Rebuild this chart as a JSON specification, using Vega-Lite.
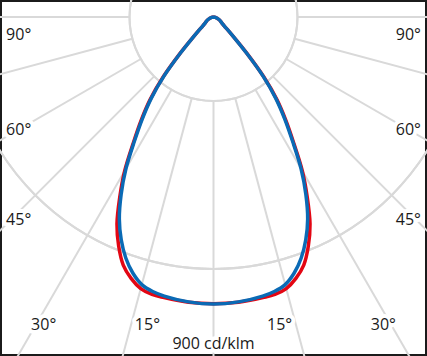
{
  "$schema": "https://vega.github.io/schema/vega-lite/v6.json",
  "width": 427,
  "height": 356,
  "padding": 0,
  "autosize": {"type": "none"},
  "background": "white",
  "config": {"view": {"stroke": "#1b1b1b", "strokeWidth": 4}, "font": "Open Sans"},
  "datasets": {
    "rings": [{"r": 225}, {"r": 450}, {"r": 675}, {"r": 900}],
    "spokes": [{"a": -90}, {"a": -75}, {"a": -60}, {"a": -45}, {"a": -30}, {"a": -15}, {"a": 0}, {"a": 15}, {"a": 30}, {"a": 45}, {"a": 60}, {"a": 75}, {"a": 90}],
    "labels": [
      {"t": "90°", "x": -522, "y": 48},
      {"t": "60°", "x": -522, "y": 303},
      {"t": "45°", "x": -522, "y": 545},
      {"t": "30°", "x": -455, "y": 824},
      {"t": "15°", "x": -177, "y": 824},
      {"t": "90°", "x": 522, "y": 48},
      {"t": "60°", "x": 522, "y": 303},
      {"t": "45°", "x": 522, "y": 545},
      {"t": "30°", "x": 455, "y": 824},
      {"t": "15°", "x": 177, "y": 824},
      {"t": "900 cd/klm", "x": 0, "y": 875}
    ],
    "curves": [
      {"c": "r", "a": -90, "i": 0}, {"c": "r", "a": -80, "i": 5}, {"c": "r", "a": -65, "i": 16}, {"c": "r", "a": -55, "i": 27},
      {"c": "r", "a": -50, "i": 38}, {"c": "r", "a": -47.5, "i": 54}, {"c": "r", "a": -45, "i": 80}, {"c": "r", "a": -42.5, "i": 134},
      {"c": "r", "a": -40, "i": 210}, {"c": "r", "a": -37.5, "i": 279}, {"c": "r", "a": -35, "i": 338}, {"c": "r", "a": -32.5, "i": 400},
      {"c": "r", "a": -30, "i": 476}, {"c": "r", "a": -27.5, "i": 544}, {"c": "r", "a": -25, "i": 612}, {"c": "r", "a": -22.5, "i": 664},
      {"c": "r", "a": -20, "i": 707}, {"c": "r", "a": -17.5, "i": 734}, {"c": "r", "a": -15, "i": 753}, {"c": "r", "a": -12.5, "i": 761},
      {"c": "r", "a": -10, "i": 763}, {"c": "r", "a": -5, "i": 767}, {"c": "r", "a": 0, "i": 768},
      {"c": "r", "a": 5, "i": 767}, {"c": "r", "a": 10, "i": 763}, {"c": "r", "a": 12.5, "i": 761}, {"c": "r", "a": 15, "i": 753},
      {"c": "r", "a": 17.5, "i": 734}, {"c": "r", "a": 20, "i": 707}, {"c": "r", "a": 22.5, "i": 664}, {"c": "r", "a": 25, "i": 612},
      {"c": "r", "a": 27.5, "i": 544}, {"c": "r", "a": 30, "i": 476}, {"c": "r", "a": 32.5, "i": 400}, {"c": "r", "a": 35, "i": 338},
      {"c": "r", "a": 37.5, "i": 279}, {"c": "r", "a": 40, "i": 210}, {"c": "r", "a": 42.5, "i": 134}, {"c": "r", "a": 45, "i": 80},
      {"c": "r", "a": 47.5, "i": 54}, {"c": "r", "a": 50, "i": 38}, {"c": "r", "a": 55, "i": 27}, {"c": "r", "a": 65, "i": 16},
      {"c": "r", "a": 80, "i": 5}, {"c": "r", "a": 90, "i": 0},
      {"c": "b", "a": -90, "i": 0}, {"c": "b", "a": -80, "i": 5}, {"c": "b", "a": -65, "i": 16}, {"c": "b", "a": -55, "i": 27},
      {"c": "b", "a": -50, "i": 38}, {"c": "b", "a": -47.5, "i": 54}, {"c": "b", "a": -45, "i": 80}, {"c": "b", "a": -42.5, "i": 131},
      {"c": "b", "a": -40, "i": 206}, {"c": "b", "a": -37.5, "i": 273}, {"c": "b", "a": -35, "i": 332}, {"c": "b", "a": -32.5, "i": 394},
      {"c": "b", "a": -30, "i": 469}, {"c": "b", "a": -27.5, "i": 536}, {"c": "b", "a": -25, "i": 597}, {"c": "b", "a": -22.5, "i": 646},
      {"c": "b", "a": -20, "i": 687}, {"c": "b", "a": -17.5, "i": 719}, {"c": "b", "a": -15, "i": 742}, {"c": "b", "a": -12.5, "i": 753},
      {"c": "b", "a": -10, "i": 759}, {"c": "b", "a": -5, "i": 766}, {"c": "b", "a": 0, "i": 769},
      {"c": "b", "a": 5, "i": 766}, {"c": "b", "a": 10, "i": 759}, {"c": "b", "a": 12.5, "i": 753}, {"c": "b", "a": 15, "i": 742},
      {"c": "b", "a": 17.5, "i": 719}, {"c": "b", "a": 20, "i": 687}, {"c": "b", "a": 22.5, "i": 646}, {"c": "b", "a": 25, "i": 597},
      {"c": "b", "a": 27.5, "i": 536}, {"c": "b", "a": 30, "i": 469}, {"c": "b", "a": 32.5, "i": 394}, {"c": "b", "a": 35, "i": 332},
      {"c": "b", "a": 37.5, "i": 273}, {"c": "b", "a": 40, "i": 206}, {"c": "b", "a": 42.5, "i": 131}, {"c": "b", "a": 45, "i": 80},
      {"c": "b", "a": 47.5, "i": 54}, {"c": "b", "a": 50, "i": 38}, {"c": "b", "a": 55, "i": 27}, {"c": "b", "a": 65, "i": 16},
      {"c": "b", "a": 80, "i": 5}, {"c": "b", "a": 90, "i": 0}
    ]
  },
  "encoding": {
    "x": {"type": "quantitative", "scale": {"domain": [-572, 572], "nice": false, "zero": false}, "axis": null},
    "y": {"type": "quantitative", "scale": {"domain": [-45.5, 908], "nice": false, "zero": false, "reverse": true}, "axis": null}
  },
  "layer": [
    {
      "data": {"name": "rings"},
      "mark": {"type": "arc", "filled": false, "stroke": "#d9d9d9", "strokeWidth": 2, "theta": 0, "theta2": 6.2832, "clip": true},
      "encoding": {
        "x": {"datum": 0, "type": "quantitative"},
        "y": {"datum": 0, "type": "quantitative"},
        "radius": {"field": "r", "type": "quantitative", "scale": {"type": "linear", "domain": [0, 900], "range": [0, 336], "zero": true, "nice": false}, "legend": null}
      }
    },
    {
      "data": {"name": "spokes"},
      "transform": [
        {"calculate": "225*sin(datum.a*PI/180)", "as": "x1"},
        {"calculate": "225*cos(datum.a*PI/180)", "as": "y1"},
        {"calculate": "1500*sin(datum.a*PI/180)", "as": "x2"},
        {"calculate": "1500*cos(datum.a*PI/180)", "as": "y2"}
      ],
      "mark": {"type": "rule", "stroke": "#d9d9d9", "strokeWidth": 2, "clip": true},
      "encoding": {
        "x": {"field": "x1", "type": "quantitative"},
        "y": {"field": "y1", "type": "quantitative"},
        "x2": {"field": "x2"},
        "y2": {"field": "y2"}
      }
    },
    {
      "data": {"name": "labels"},
      "mark": {"type": "text", "fontSize": 16, "align": "center", "baseline": "middle", "fill": "white", "stroke": "white", "strokeWidth": 8, "strokeJoin": "round"},
      "encoding": {
        "x": {"field": "x", "type": "quantitative"},
        "y": {"field": "y", "type": "quantitative"},
        "text": {"field": "t"}
      }
    },
    {
      "data": {"name": "curves"},
      "transform": [
        {"filter": "datum.c == 'r'"},
        {"calculate": "datum.i*sin(datum.a*PI/180)", "as": "px"},
        {"calculate": "datum.i*cos(datum.a*PI/180)", "as": "py"}
      ],
      "mark": {"type": "line", "stroke": "#e30613", "strokeWidth": 3.5, "interpolate": "catmull-rom", "clip": true},
      "encoding": {
        "x": {"field": "px", "type": "quantitative"},
        "y": {"field": "py", "type": "quantitative"},
        "order": {"field": "a", "type": "quantitative"}
      }
    },
    {
      "data": {"name": "curves"},
      "transform": [
        {"filter": "datum.c == 'b'"},
        {"calculate": "datum.i*sin(datum.a*PI/180)", "as": "px"},
        {"calculate": "datum.i*cos(datum.a*PI/180)", "as": "py"}
      ],
      "mark": {"type": "line", "stroke": "#0a6ab5", "strokeWidth": 3.5, "interpolate": "catmull-rom", "clip": true},
      "encoding": {
        "x": {"field": "px", "type": "quantitative"},
        "y": {"field": "py", "type": "quantitative"},
        "order": {"field": "a", "type": "quantitative"}
      }
    },
    {
      "data": {"name": "labels"},
      "mark": {"type": "text", "fontSize": 16, "align": "center", "baseline": "middle", "fill": "#1a1a1a"},
      "encoding": {
        "x": {"field": "x", "type": "quantitative"},
        "y": {"field": "y", "type": "quantitative"},
        "text": {"field": "t"}
      }
    }
  ]
}
